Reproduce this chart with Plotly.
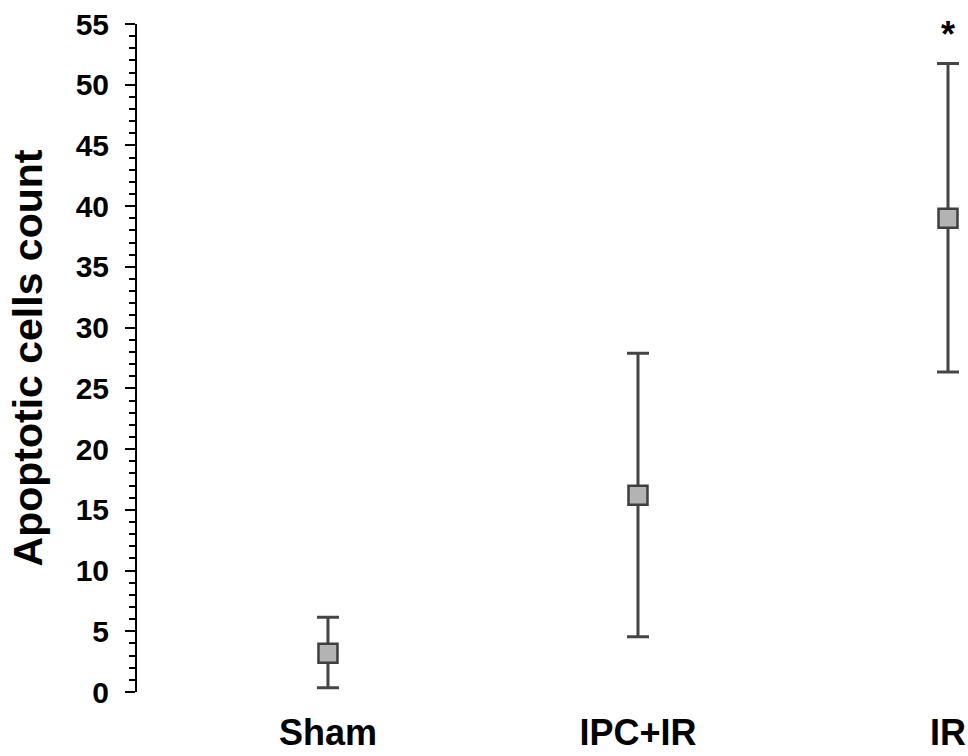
import plotly.graph_objects as go

categories = ["Sham", "IPC+IR", "IR"]
means = [3.2, 16.2, 39.0]
err_plus = [2.95, 11.7, 12.75]
err_minus = [2.85, 11.65, 12.65]
y_ticks = list(range(0, 56, 5))
significance = ["", "", "*"]

xpos = list(range(len(categories)))
FONT = "Liberation Sans, Arial, sans-serif"

fig = go.Figure()
fig.add_trace(go.Scatter(
    x=xpos, y=means, mode="markers",
    marker=dict(symbol="square", size=19, color="#b3b3b3",
                line=dict(color="#3f3f3f", width=2.5)),
    error_y=dict(type="data", array=err_plus, arrayminus=err_minus,
                 symmetric=False, color="#454545", thickness=3, width=11),
    cliponaxis=False, showlegend=False,
))

for i, s in enumerate(significance):
    if s:
        fig.add_annotation(x=xpos[i], y=means[i] + err_plus[i], text=s,
                           showarrow=False, yanchor="bottom", yshift=6,
                           font=dict(family=FONT, size=36, color="black", weight="bold"))

fig.update_layout(
    width=968, height=756,
    margin=dict(l=137, r=0, t=24, b=64, autoexpand=False),
    plot_bgcolor="white", paper_bgcolor="white",
    font=dict(family=FONT, color="black"),
)
fig.update_xaxes(
    range=[-0.616, 2.0645], tickvals=xpos, ticktext=categories,
    showline=False, showgrid=False, zeroline=False, ticks="",
    tickfont=dict(family=FONT, size=36, color="black", weight="bold"),
    ticklabelstandoff=16,
)
fig.update_yaxes(
    range=[0, 55], tickvals=y_ticks,
    showline=True, linecolor="black", linewidth=2,
    showgrid=False, zeroline=False,
    ticks="outside", ticklen=10, tickwidth=2, tickcolor="black",
    minor=dict(dtick=1, ticks="outside", ticklen=6, tickwidth=2, tickcolor="black", showgrid=False),
    tickfont=dict(family=FONT, size=30, color="black", weight="bold"),
    ticklabelstandoff=10,
    title=dict(text="Apoptotic cells count", standoff=20,
               font=dict(family=FONT, size=41, color="black", weight="bold")),
)

fig.write_html("out.html")
